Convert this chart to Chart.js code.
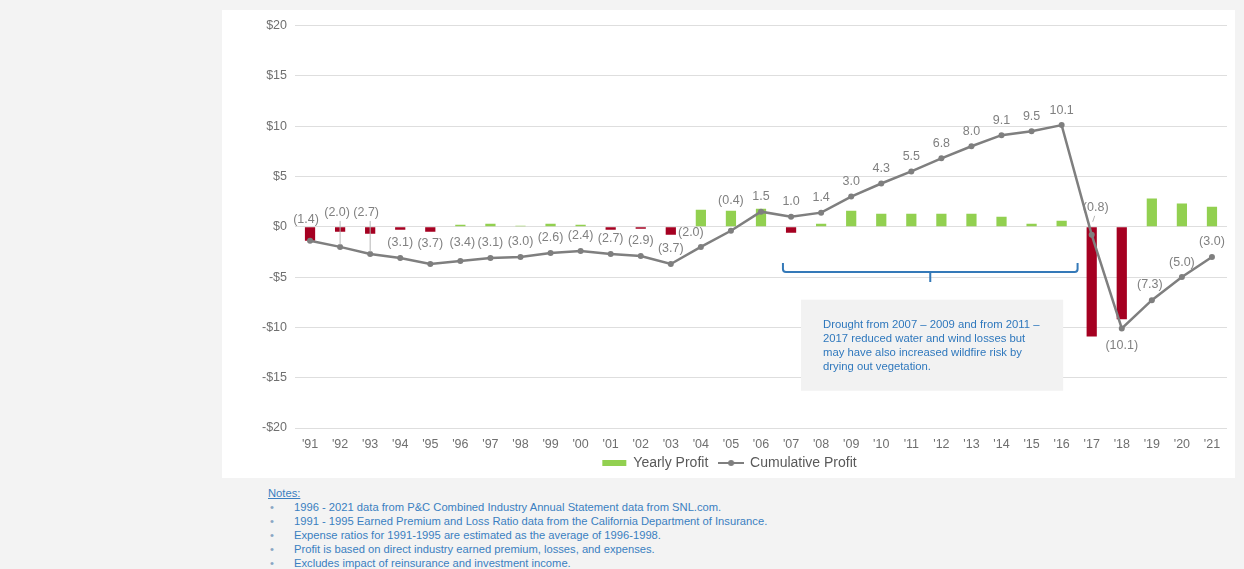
<!DOCTYPE html>
<html>
<head>
<meta charset="utf-8">
<script src="https://cdn.jsdelivr.net/npm/chart.js@4.4.1/dist/chart.umd.min.js"></script>
<style>
    html, body { margin: 0; padding: 0; width: 1244px; height: 569px; overflow: hidden; background: #f3f3f3; font-family: "Liberation Sans", Arial, sans-serif; }
    #card { position: absolute; left: 222px; top: 10px; width: 1013px; height: 468px; background: #fff; }
    #notes { position: absolute; left: 268px; top: 487px; color: #3a7fc1; font-size: 11.2px; line-height: 13.9px; }
    #notes .head { text-decoration: underline; }
    #notes ul { list-style: none; margin: 0; padding: 0; }
    #notes li { position: relative; padding-left: 26px; white-space: nowrap; }
    #notes li:before { content: "\2022"; position: absolute; left: 2px; color: #8aa6c4; }
</style>
</head>
<body>
<div id="card"><canvas id="profitChart"></canvas></div>
<div id="notes">
    <div class="head">Notes:</div>
    <ul>
        <li>1996 - 2021 data from P&amp;C Combined Industry Annual Statement data from SNL.com.</li>
        <li>1991 - 1995 Earned Premium and Loss Ratio data from the California Department of Insurance.</li>
        <li>Expense ratios for 1991-1995 are estimated as the average of 1996-1998.</li>
        <li>Profit is based on direct industry earned premium, losses, and expenses.</li>
        <li>Excludes impact of reinsurance and investment income.</li>
    </ul>
</div>
<script>
const years = ["'91", "'92", "'93", "'94", "'95", "'96", "'97", "'98", "'99", "'00", "'01", "'02", "'03", "'04", "'05", "'06",
    "'07", "'08", "'09", "'10", "'11", "'12", "'13", "'14", "'15", "'16", "'17", "'18", "'19", "'20", "'21"];
const yearlyProfit = [-1.4, -0.5, -0.7, -0.3, -0.5, 0.2, 0.3, 0.1, 0.3, 0.2, -0.3, -0.2, -0.8, 1.7, 1.6, 1.8,
    -0.6, 0.3, 1.6, 1.3, 1.3, 1.3, 1.3, 1.0, 0.3, 0.6, -10.9, -9.2, 2.8, 2.3, 2.0];
const cumulativeProfit = [-1.4, -2.0, -2.7, -3.1, -3.7, -3.4, -3.1, -3.0, -2.6, -2.4, -2.7, -2.9, -3.7, -2.0, -0.4, 1.5,
    1.0, 1.4, 3.0, 4.3, 5.5, 6.8, 8.0, 9.1, 9.5, 10.1, -0.8, -10.1, -7.3, -5.0, -3.0];
const yMin = -20, yMax = 20, yStep = 5;
const droughtNote = [
    'Drought from 2007 \u2013 2009 and from 2011 \u2013',
    '2017 reduced water and wind losses but',
    'may have also increased wildfire risk by',
    'drying out vegetation.'
];

const GREEN = '#92d050';
const RED = '#a50021';
const GREY = '#7f7f7f';
const BLUE = '#3479b8';
const FONT = '"Liberation Sans", Arial, sans-serif';

// label placement tweaks (pixels from the point), default is just above
const labelOffsets = {
    0: { dx: -4, dy: -21 },
    1: { dx: -3, dy: -34, leader: true },
    2: { dx: -4, dy: -41, leader: true },
    4: { dx: 0, dy: -20 },
    5: { dx: 2, dy: -18 },
    13: { dx: -10, dy: -14 },
    14: { dx: 0, dy: -30 },
    26: { dx: 4, dy: -27, leader: true },
    27: { dx: 0, dy: 17 },
    28: { dx: -2, dy: -16 }
};

// little line-with-dot icon for the legend
const lineIcon = document.createElement('canvas');
lineIcon.width = 26;
lineIcon.height = 8;
(function () {
    const c = lineIcon.getContext('2d');
    c.strokeStyle = GREY;
    c.lineWidth = 2;
    c.beginPath();
    c.moveTo(0, 4);
    c.lineTo(26, 4);
    c.stroke();
    c.fillStyle = GREY;
    c.beginPath();
    c.arc(13, 4, 3, 0, Math.PI * 2);
    c.fill();
})();

// keep the legend strip short so the plot gets the height, then nudge it into place
const legendHeightPlugin = {
    id: 'legendHeight',
    beforeInit(chart) {
        const legend = chart.legend;
        const fit = legend.fit;
        legend.fit = function () {
            fit.call(this);
            this.height = 17;
        };
    },
    afterLayout(chart) {
        const legend = chart.legend;
        legend.top -= 8;
        legend.bottom -= 8;
        legend.left += 5;
        legend.right += 5;
    }
};

const extrasPlugin = {
    id: 'extras',
    afterDatasetsDraw(chart) {
        const ctx = chart.ctx;
        const x = chart.scales.x;
        const y = chart.scales.y;
        const meta = chart.getDatasetMeta(1);

        ctx.save();
        // data labels for cumulative line
        ctx.font = '12.5px ' + FONT;
        ctx.fillStyle = '#808080';
        ctx.textAlign = 'center';
        ctx.textBaseline = 'middle';
        meta.data.forEach((pt, i) => {
            const o = labelOffsets[i] || { dx: 0, dy: -15 };
            const v = cumulativeProfit[i];
            const txt = v < 0 ? '(' + Math.abs(v).toFixed(1) + ')' : v.toFixed(1);
            const lx = pt.x + o.dx;
            const ly = pt.y + o.dy;
            if (o.leader) {
                ctx.strokeStyle = '#b5b5b5';
                ctx.lineWidth = 1;
                ctx.beginPath();
                if (i === 26) {
                    ctx.moveTo(lx - 1, ly + 8);
                    ctx.lineTo(lx - 3, ly + 14);
                } else {
                    ctx.moveTo(pt.x, ly + 8);
                    ctx.lineTo(pt.x, pt.y - 2);
                }
                ctx.stroke();
            }
            ctx.fillText(txt, lx, ly);
        });

        // bracket under 2007 - 2016
        const xL = x.getPixelForValue(15.73);
        const xR = x.getPixelForValue(25.53);
        const xM = (xL + xR) / 2;
        const yTop = y.getPixelForValue(-3.6);
        const yH = y.getPixelForValue(-4.5);
        const yTick = y.getPixelForValue(-5.5);
        ctx.strokeStyle = BLUE;
        ctx.lineWidth = 2;
        ctx.beginPath();
        ctx.moveTo(xL, yTop);
        ctx.lineTo(xL, yH - 3);
        ctx.quadraticCurveTo(xL, yH, xL + 3, yH);
        ctx.lineTo(xR - 3, yH);
        ctx.quadraticCurveTo(xR, yH, xR, yH - 3);
        ctx.lineTo(xR, yTop);
        ctx.moveTo(xM, yH);
        ctx.lineTo(xM, yTick);
        ctx.stroke();

        // note box
        const bx0 = x.getPixelForValue(16.33);
        const bx1 = x.getPixelForValue(25.05);
        const by0 = y.getPixelForValue(-7.25);
        const by1 = y.getPixelForValue(-16.3);
        ctx.fillStyle = '#f2f2f2';
        ctx.fillRect(bx0, by0, bx1 - bx0, by1 - by0);
        ctx.font = '11.3px ' + FONT;
        ctx.fillStyle = '#2f78bd';
        ctx.textAlign = 'left';
        droughtNote.forEach((line, k) => {
            ctx.fillText(line, bx0 + 22, by0 + 25 + k * 13.9);
        });
        ctx.restore();
    }
};

const chart = new Chart(document.getElementById('profitChart'), {
    type: 'bar',
    data: {
        labels: years,
        datasets: [
            {
                type: 'bar',
                label: 'Yearly Profit',
                data: yearlyProfit,
                backgroundColor: yearlyProfit.map(v => v >= 0 ? GREEN : RED),
                categoryPercentage: 1,
                barPercentage: 0.34,
                order: 2
            },
            {
                type: 'line',
                label: 'Cumulative Profit',
                data: cumulativeProfit,
                borderColor: GREY,
                backgroundColor: GREY,
                borderWidth: 2.5,
                pointRadius: 3,
                pointBackgroundColor: GREY,
                pointBorderWidth: 0,
                tension: 0,
                order: 1
            }
        ]
    },
    options: {
        responsive: true,
        maintainAspectRatio: false,
        animation: false,
        events: [],
        layout: {
            padding: { top: 15, right: 8, left: 0, bottom: 0 }
        },
        plugins: {
            tooltip: { enabled: false },
            legend: {
                position: 'bottom',
                labels: {
                    usePointStyle: true,
                    pointStyleWidth: 24,
                    boxHeight: 6,
                    padding: 3,
                    color: '#595959',
                    font: { family: FONT, size: 14 },
                    generateLabels: () => [
                        { text: 'Yearly Profit  ', fillStyle: GREEN, strokeStyle: GREEN, lineWidth: 0, pointStyle: 'rect', datasetIndex: 0, fontColor: '#595959' },
                        { text: 'Cumulative Profit', fillStyle: GREY, strokeStyle: GREY, lineWidth: 0, pointStyle: lineIcon, datasetIndex: 1, fontColor: '#595959' }
                    ]
                }
            }
        },
        scales: {
            x: {
                offset: true,
                grid: { display: false, drawTicks: false },
                border: { display: false },
                ticks: {
                    color: '#6f6f6f',
                    padding: 9,
                    maxRotation: 0,
                    autoSkip: false,
                    font: { family: FONT, size: 12.5 }
                }
            },
            y: {
                min: yMin,
                max: yMax,
                grid: { color: '#dedede', lineWidth: 1, drawTicks: false },
                border: { display: false },
                ticks: {
                    stepSize: yStep,
                    padding: 8,
                    color: '#6f6f6f',
                    font: { family: FONT, size: 12.5 },
                    callback: v => (v < 0 ? '-$' : '$') + Math.abs(v)
                },
                afterFit: scale => { scale.width = 73; }
            }
        }
    },
    plugins: [legendHeightPlugin, extrasPlugin]
});
</script>
</body>
</html>
